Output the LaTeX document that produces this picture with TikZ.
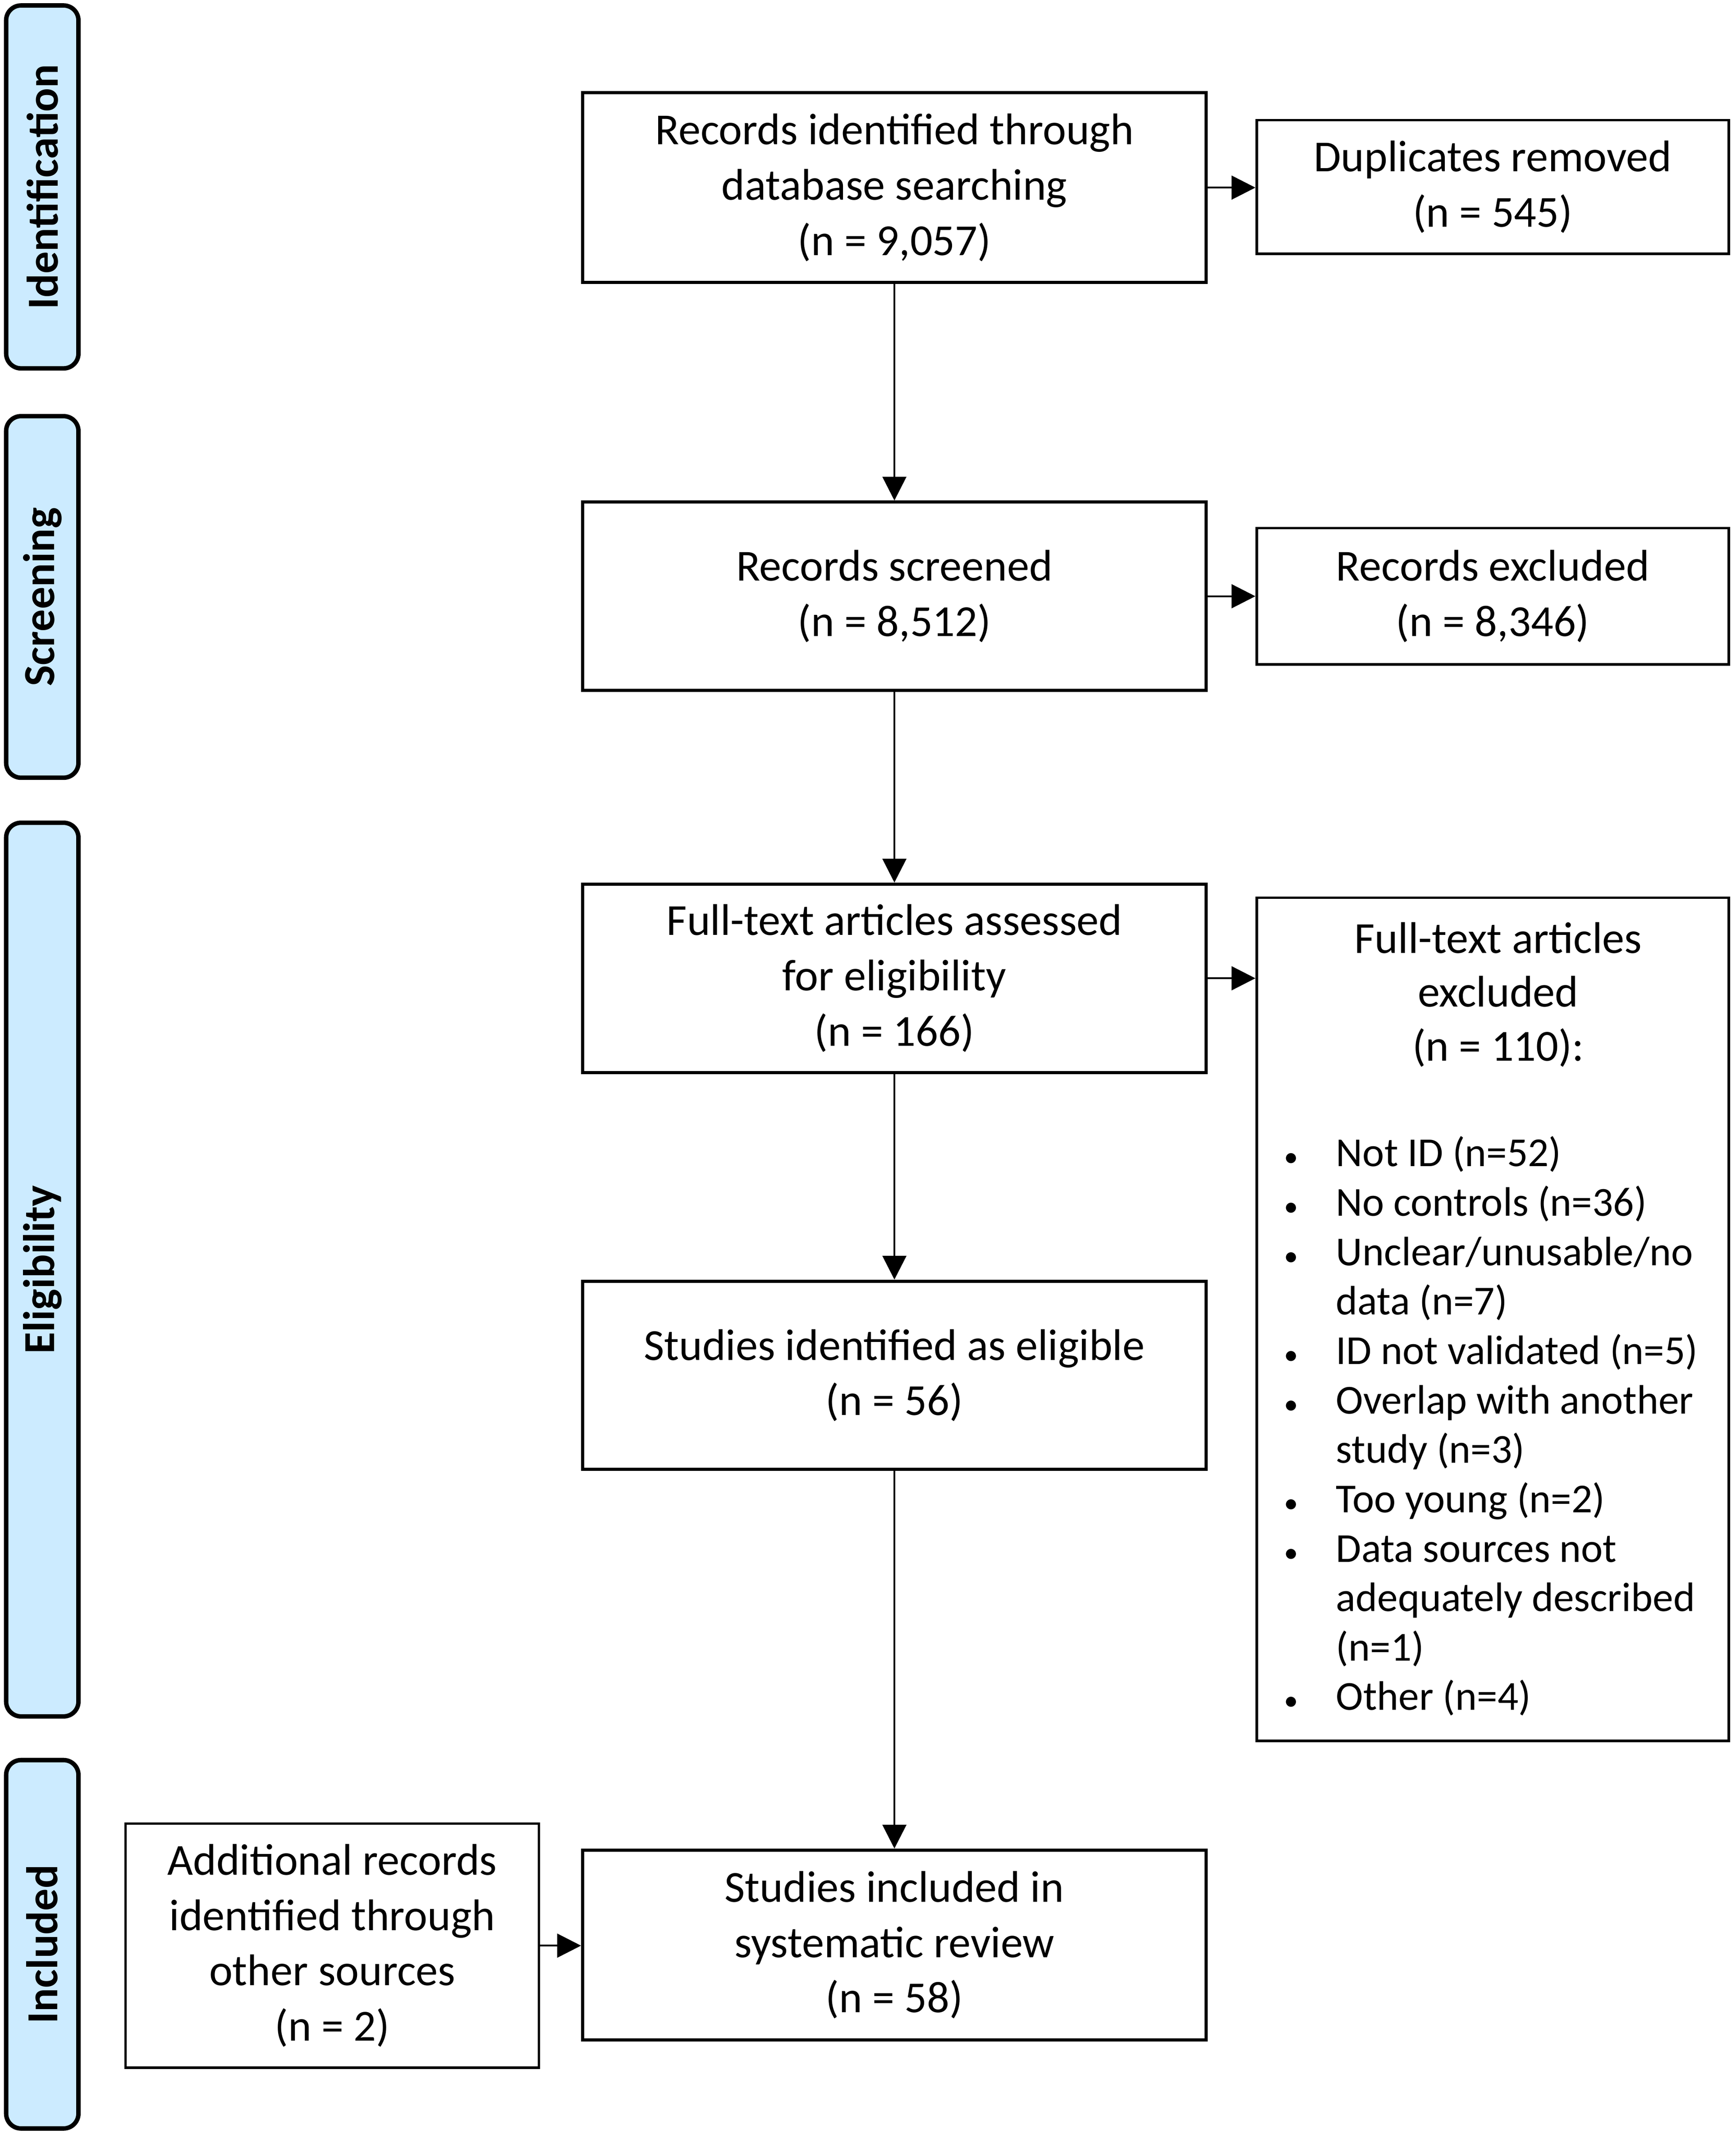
\documentclass[tikz,border=0pt]{standalone}
\usepackage{fontspec}
\setmainfont{Carlito}
\usetikzlibrary{arrows.meta}
\newcommand\UU{0.03027cm}
\newcommand\blt{\makebox[0pt]{\fontsize{18}{18}\selectfont\textbullet}}
\definecolor{barblue}{RGB}{204,235,255}
\begin{document}
\begin{tikzpicture}[x=0.03027cm,y=-0.03027cm,
  mainbox/.style={draw, line width=2pt, rectangle, align=center, inner sep=0pt,
    minimum width=457*\UU, font=\fontsize{28}{34.9}\selectfont},
  sidebox/.style={draw, line width=1.6pt, rectangle, align=center, inner sep=0pt,
    font=\fontsize{28}{34.9}\selectfont},
  phasebar/.style={draw, line width=2.8pt, fill=barblue, rounded corners=0.33cm,
    rectangle, inner sep=0pt, rotate=90, minimum height=53*\UU,
    font=\fontsize{28}{34}\selectfont\bfseries},
  conn/.style={line width=1.1pt, -{Triangle[length=15pt,width=15pt]}},
]
\useasboundingbox (0,0) rectangle (1272,1567);

% phase bars
\node[phasebar, minimum width=266*\UU] (pid) at (31,137) {Identification};
\node[phasebar, minimum width=265*\UU] (psc) at (31,437.5) {Screening};
\node[phasebar, minimum width=655*\UU] (pel) at (31,930.5) {Eligibility};
\node[phasebar, minimum width=270*\UU] (pin) at (31,1425) {Included};

% main column
\node[mainbox, minimum height=139*\UU] (b1) at (655.5,137.5)
  {Records identified through\\database searching\\(n = 9,057)};
\node[mainbox, minimum height=138*\UU] (b2) at (655.5,437)
  {Records screened\\(n = 8,512)};
\node[mainbox, minimum height=138*\UU] (b3) at (655.5,717)
  {Full-text articles assessed\\for eligibility\\(n = 166)};
\node[mainbox, minimum height=138*\UU] (b4) at (655.5,1008)
  {Studies identified as eligible\\(n = 56)};
\node[mainbox, minimum height=139*\UU] (b5) at (655.5,1425.5)
  {Studies included in\\systematic review\\(n = 58)};

% right column
\node[sidebox, minimum width=346*\UU, minimum height=98*\UU] (r1) at (1094,137)
  {Duplicates removed\\(n = 545)};
\node[sidebox, minimum width=346*\UU, minimum height=100*\UU] (r2) at (1094,437)
  {Records excluded\\(n = 8,346)};
\node[sidebox, minimum width=346*\UU, minimum height=618*\UU] (r3) at (1094,967) {};
\node[align=center, inner sep=0pt, font=\fontsize{28}{34}\selectfont] (r3head) at (1098,729)
  {Full-text articles\\excluded\\(n = 110):};
\node[inner sep=0pt, anchor=base west, font=\fontsize{26}{31.2}\selectfont] (r3list) at (946,855)
  {\begin{tabular}[t]{@{}p{28.4pt}@{}l@{}}
  \blt & Not ID (n=52)\\
  \blt & No controls (n=36)\\
  \blt & Unclear/unusable/no\\
   & data (n=7)\\
  \blt & ID not validated (n=5)\\
  \blt & Overlap with another\\
   & study (n=3)\\
  \blt & Too young (n=2)\\
  \blt & Data sources not\\
   & adequately described\\
   & (n=1)\\
  \blt & Other (n=4)
  \end{tabular}};

% left box
\node[sidebox, minimum width=303*\UU, minimum height=179*\UU] (l1) at (243.5,1426)
  {Additional records\\identified through\\other sources\\(n = 2)};

% connectors
\draw[conn] (b1) -- (b2);
\draw[conn] (b2) -- (b3);
\draw[conn] (b3) -- (b4);
\draw[conn] (b4) -- (b5);
\draw[conn] (b1.east) -- (b1.east -| r1.west);
\draw[conn] (b2.east) -- (b2.east -| r2.west);
\draw[conn] (b3.east) -- (b3.east -| r3.west);
\draw[conn] (l1.east) -- (l1.east -| b5.west);
\end{tikzpicture}
\end{document}
